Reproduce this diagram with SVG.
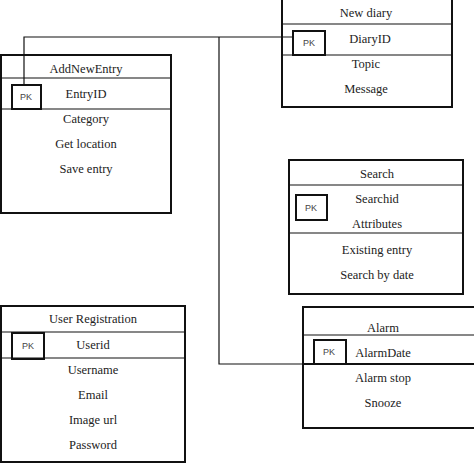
<svg xmlns="http://www.w3.org/2000/svg" width="474" height="463" viewBox="0 0 474 463">
<style>
.box{fill:#fff;stroke:#111;stroke-width:2}
.ln{stroke:#111;stroke-width:1.2;fill:none}
.pk{fill:none;stroke:#111;stroke-width:2}
.t{font-family:'Liberation Serif','Times New Roman','DejaVu Serif',serif;font-size:12.5px;fill:#222;text-anchor:middle;dominant-baseline:middle}
.pkt{font-family:'Liberation Sans',Arial,sans-serif;font-size:9px;fill:#444;text-anchor:middle;dominant-baseline:middle}
</style>
<rect width="474" height="463" fill="#fff"/>
<g id="newdiary">
<rect class="box" x="282" y="-1" width="170" height="108"/>
<line class="ln" x1="282" y1="24" x2="452" y2="24"/>
<line class="ln" x1="282" y1="55" x2="452" y2="55"/>
<rect class="pk" x="293" y="31" width="32" height="24"/>
<text class="pkt" x="309" y="44">PK</text>
<text class="t" x="366" y="14">New diary</text>
<text class="t" x="370" y="40">DiaryID</text>
<text class="t" x="366" y="65">Topic</text>
<text class="t" x="366" y="90">Message</text>
</g>
<g id="addnewentry">
<rect class="box" x="1" y="55" width="170" height="158"/>
<line class="ln" x1="1" y1="78" x2="171" y2="78"/>
<line class="ln" x1="1" y1="109" x2="171" y2="109"/>
<rect class="pk" x="12" y="85" width="29" height="24"/>
<text class="pkt" x="26" y="98">PK</text>
<text class="t" x="86" y="70">AddNewEntry</text>
<text class="t" x="86" y="95">EntryID</text>
<text class="t" x="86" y="120">Category</text>
<text class="t" x="86" y="145">Get location</text>
<text class="t" x="86" y="170">Save entry</text>
</g>
<g id="search">
<rect class="box" x="289" y="160" width="174" height="134"/>
<line class="ln" x1="289" y1="185" x2="463" y2="185"/>
<line class="ln" x1="289" y1="233" x2="463" y2="233"/>
<rect class="pk" x="296" y="195" width="31" height="25"/>
<text class="pkt" x="311" y="209">PK</text>
<text class="t" x="377" y="175">Search</text>
<text class="t" x="377" y="200">Searchid</text>
<text class="t" x="377" y="225">Attributes</text>
<text class="t" x="377" y="251">Existing entry</text>
<text class="t" x="377" y="276">Search by date</text>
</g>
<g id="alarm">
<rect class="box" x="303" y="307" width="175" height="121"/>
<line class="ln" x1="303" y1="335" x2="474" y2="335"/>
<line class="ln" x1="303" y1="364" x2="474" y2="364" style="stroke-width:2"/>
<rect class="pk" x="314" y="340" width="32" height="24"/>
<text class="pkt" x="329" y="353">PK</text>
<text class="t" x="383" y="329">Alarm</text>
<text class="t" x="383" y="354">AlarmDate</text>
<text class="t" x="383" y="379">Alarm stop</text>
<text class="t" x="383" y="404">Snooze</text>
</g>
<g id="userreg">
<rect class="box" x="1" y="306" width="184" height="156"/>
<line class="ln" x1="1" y1="332" x2="185" y2="332"/>
<line class="ln" x1="1" y1="358" x2="185" y2="358"/>
<rect class="pk" x="12" y="333" width="32" height="26"/>
<text class="pkt" x="28" y="347">PK</text>
<text class="t" x="93" y="320">User Registration</text>
<text class="t" x="93" y="346">Userid</text>
<text class="t" x="93" y="371">Username</text>
<text class="t" x="93" y="396">Email</text>
<text class="t" x="93" y="421">Image url</text>
<text class="t" x="93" y="446">Password</text>
</g>
<g id="connectors">
<polyline class="ln" points="24,85 24,37 293,37"/>
<polyline class="ln" points="219,37 219,364 303,364"/>
</g>
</svg>
